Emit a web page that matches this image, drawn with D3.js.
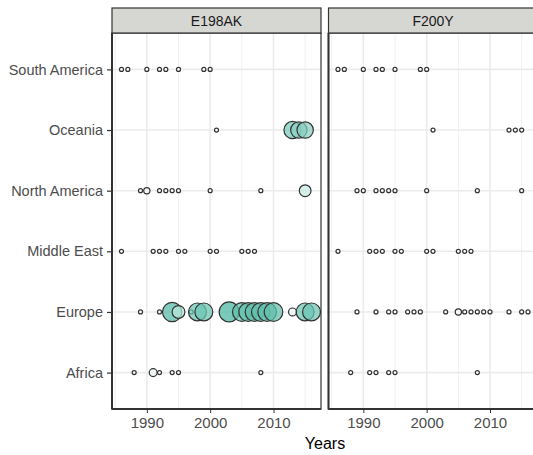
<!DOCTYPE html>
<html>
<head>
<meta charset="utf-8">
<script src="https://cdn.jsdelivr.net/npm/d3@7"></script>
<style>
  html, body { margin: 0; padding: 0; background: #ffffff; }
  svg { display: block; font-family: "Liberation Sans", Arial, sans-serif; }
</style>
</head>
<body>
<svg id="chart" width="533" height="455"></svg>
<script>
// Regions, top to bottom
const regions = ["South America", "Oceania", "North America", "Middle East", "Europe", "Africa"];
const mutations = ["E198AK", "F200Y"];
const yearTicks = [1990, 2000, 2010];
const yearMinorTicks = [1985, 1995, 2005, 2015];

// Sampling years per region
const yearsSouthAmerica = [1986, 1987, 1990, 1992, 1993, 1995, 1999, 2000];
const yearsOceania = [2001, 2013, 2014, 2015];
const yearsNorthAmerica = [1989, 1990, 1992, 1993, 1994, 1995, 2000, 2008, 2015];
const yearsMiddleEast = [1986, 1991, 1992, 1993, 1995, 1996, 2000, 2001, 2005, 2006, 2007];
const yearsEurope = [1989, 1992, 1994, 1995, 1997, 1998, 1999, 2003, 2005, 2006, 2007, 2008, 2009, 2010, 2013, 2015, 2016];
const yearsAfrica = [1988, 1991, 1992, 1994, 1995, 2008];

// Counts per region/year, E198AK
const e198akSouthAmerica = [1, 1, 1, 1, 1, 1, 1, 1];
const e198akOceania = [1, 12, 11, 11];
const e198akNorthAmerica = [1, 2, 1, 1, 1, 1, 1, 1, 6];
const e198akMiddleEast = [1, 1, 1, 1, 1, 1, 1, 1, 1, 1, 1];
const e198akEurope = [1, 1, 15, 7, 1, 13, 13, 16, 14, 14, 14, 14, 14, 14, 3, 13, 13];
const e198akAfrica = [1, 3, 1, 1, 1, 1];

// Counts per region/year, F200Y
const f200ySouthAmerica = [1, 1, 1, 1, 1, 1, 1, 1];
const f200yOceania = [1, 1, 1, 1];
const f200yNorthAmerica = [1, 1, 1, 1, 1, 1, 1, 1, 1];
const f200yMiddleEast = [1, 1, 1, 1, 1, 1, 1, 1, 1, 1, 1];
const f200yEurope = [1, 1, 1, 1, 1, 1, 1, 1, 2, 1, 1, 1, 1, 1, 1, 1, 1];
const f200yAfrica = [1, 1, 1, 1, 1, 1];

const regionYears = [yearsSouthAmerica, yearsOceania, yearsNorthAmerica, yearsMiddleEast, yearsEurope, yearsAfrica];
const panelCounts = [
  [e198akSouthAmerica, e198akOceania, e198akNorthAmerica, e198akMiddleEast, e198akEurope, e198akAfrica],
  [f200ySouthAmerica, f200yOceania, f200yNorthAmerica, f200yMiddleEast, f200yEurope, f200yAfrica]
];

const svg = d3.select("#chart");

const panelTop = 33, panelBottom = 409, stripTop = 8;
const panelX = [[112, 321], [328.5, 537.5]];
const yearDomain = [1984.5, 2017.5];

const y = d3.scalePoint().domain(regions).range([panelTop, panelBottom]).padding(0.6);
const r = d3.scaleSqrt().domain([1, 16]).range([2, 10]);
const fill = d3.scaleLinear().domain([1, 4, 16]).range(["#ffffff", "#e0f3ef", "#45b59f"]).interpolate(d3.interpolateRgb);

mutations.forEach((mut, p) => {
  const [x0, x1] = panelX[p];
  const x = d3.scaleLinear().domain(yearDomain).range([x0, x1]);
  const g = svg.append("g");

  // panel background
  g.append("rect").attr("x", x0).attr("y", panelTop).attr("width", x1 - x0).attr("height", panelBottom - panelTop)
    .attr("fill", "#ffffff");

  // grid
  g.selectAll(".minor").data(yearMinorTicks).join("line")
    .attr("x1", d => x(d)).attr("x2", d => x(d)).attr("y1", panelTop).attr("y2", panelBottom)
    .attr("stroke", "#f0f0f0").attr("stroke-width", 1);
  g.selectAll(".major").data(yearTicks).join("line")
    .attr("x1", d => x(d)).attr("x2", d => x(d)).attr("y1", panelTop).attr("y2", panelBottom)
    .attr("stroke", "#ebebeb").attr("stroke-width", 1.6);
  g.selectAll(".hgrid").data(regions).join("line")
    .attr("x1", x0).attr("x2", x1).attr("y1", d => y(d)).attr("y2", d => y(d))
    .attr("stroke", "#ebebeb").attr("stroke-width", 1.6);

  // points
  const pts = [];
  regions.forEach((reg, i) => {
    regionYears[i].forEach((yr, j) => pts.push({ region: reg, year: yr, n: panelCounts[p][i][j] }));
  });
  const clipId = "clip" + p;
  svg.append("clipPath").attr("id", clipId).append("rect")
    .attr("x", x0).attr("y", panelTop).attr("width", x1 - x0).attr("height", panelBottom - panelTop);
  g.append("g").attr("clip-path", `url(#${clipId})`)
    .selectAll("circle").data(pts).join("circle")
    .attr("cx", d => x(d.year)).attr("cy", d => y(d.region)).attr("r", d => r(d.n))
    .attr("fill", d => fill(d.n)).attr("fill-opacity", d => d.n > 1 ? 0.72 : 1)
    .attr("stroke", "#333333").attr("stroke-width", 1.2);

  // panel border
  g.append("rect").attr("x", x0).attr("y", panelTop).attr("width", x1 - x0).attr("height", panelBottom - panelTop)
    .attr("fill", "none").attr("stroke", "#333333").attr("stroke-width", 1.2);
  // axis lines
  g.append("line").attr("x1", x0).attr("x2", x0).attr("y1", panelTop).attr("y2", panelBottom + 0.6)
    .attr("stroke", "#333333").attr("stroke-width", 2);
  g.append("line").attr("x1", x0).attr("x2", x1).attr("y1", panelBottom).attr("y2", panelBottom)
    .attr("stroke", "#333333").attr("stroke-width", 2);

  // strip
  g.append("rect").attr("x", x0).attr("y", stripTop).attr("width", x1 - x0).attr("height", panelTop - stripTop)
    .attr("fill", "#d6d6d2").attr("stroke", "#333333").attr("stroke-width", 1.2);
  g.append("text").attr("x", (x0 + x1) / 2).attr("y", (stripTop + panelTop) / 2 + 5)
    .attr("text-anchor", "middle").attr("font-size", 14).attr("fill", "#1a1a1a").text(mut);

  // x axis
  const xAxis = d3.axisBottom(x).tickValues(yearTicks).tickFormat(d3.format("d")).tickSize(4).tickPadding(4);
  const ax = g.append("g").attr("transform", `translate(0,${panelBottom})`).call(xAxis);
  ax.select(".domain").remove();
  ax.selectAll("line").attr("stroke", "#333333").attr("stroke-width", 1);
  ax.selectAll("text").attr("font-size", 15).attr("fill", "#4d4d4d").attr("font-family", "Liberation Sans, Arial, sans-serif");

  // y axis on first panel
  if (p === 0) {
    const yAxis = d3.axisLeft(y).tickSize(4).tickPadding(4);
    const ay = g.append("g").attr("transform", `translate(${x0 - 1},0)`).call(yAxis);
    ay.select(".domain").remove();
    ay.selectAll("line").attr("stroke", "#333333").attr("stroke-width", 1.2);
    ay.selectAll("text").attr("font-size", 14.5).attr("fill", "#4d4d4d").attr("font-family", "Liberation Sans, Arial, sans-serif");
  }
});

svg.append("text").attr("x", 325).attr("y", 449).attr("text-anchor", "middle")
  .attr("font-size", 16).attr("fill", "#000000").text("Years");
</script>
</body>
</html>
